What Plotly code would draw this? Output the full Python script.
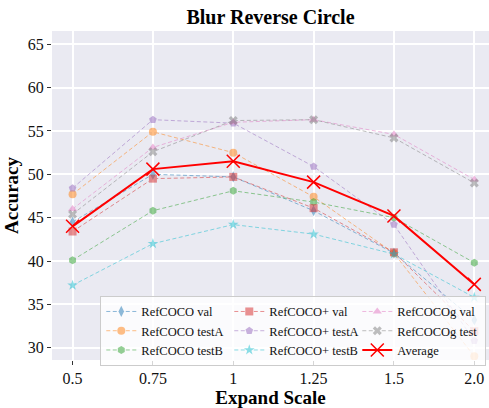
import plotly.graph_objects as go

scales = ["0.5", "0.75", "1", "1.25", "1.5", "2.0"]

refcoco_val = [44.5, 50.0, 49.7, 45.8, 40.9, 33.2]
refcoco_testA = [47.7, 54.9, 52.5, 47.4, 40.9, 29.0]
refcoco_testB = [40.1, 45.8, 48.1, 46.8, 45.0, 39.8]
refcocop_val = [43.4, 49.5, 49.7, 46.1, 41.0, 31.9]
refcocop_testA = [48.4, 56.3, 55.9, 50.9, 44.2, 30.8]
refcocop_testB = [37.2, 42.0, 44.2, 43.1, 40.8, 35.8]
refcocog_val = [46.0, 53.1, 56.0, 56.3, 54.6, 49.4]
refcocog_test = [45.4, 52.6, 56.2, 56.3, 54.2, 49.0]
average = [44.0, 50.6, 51.5, 49.1, 45.2, 37.3]

series = [
    ("RefCOCO val", refcoco_val, "#1f77b4", "diamond-tall", 1),
    ("RefCOCO testA", refcoco_testA, "#ff7f0e", "circle", 4),
    ("RefCOCO testB", refcoco_testB, "#2ca02c", "hexagon", 7),
    ("RefCOCO+ val", refcocop_val, "#d62728", "square", 2),
    ("RefCOCO+ testA", refcocop_testA, "#9467bd", "pentagon", 5),
    ("RefCOCO+ testB", refcocop_testB, "#17becf", "star", 8),
    ("RefCOCOg val", refcocog_val, "#e377c2", "triangle-up", 3),
    ("RefCOCOg test", refcocog_test, "#7f7f7f", "x", 6),
]

FONT = "Liberation Serif"

fig = go.Figure()
for name, vals, color, sym, rank in series:
    fig.add_trace(go.Scatter(
        x=scales, y=vals, name=name, mode="lines+markers",
        line=dict(color=color, width=1, dash="4px,2.5px"),
        marker=dict(symbol=sym, size=8, color=color),
        opacity=0.5, legendrank=rank,
    ))

fig.add_trace(go.Scatter(
    x=scales, y=average, name="Average", mode="lines+markers",
    line=dict(color="#ff0000", width=2),
    marker=dict(symbol="x-thin-open", size=13, color="#ff0000",
                line=dict(color="#ff0000", width=1.5)),
    legendrank=9,
))

fig.update_layout(
    width=489, height=408,
    margin=dict(l=52, r=0, t=31, b=48),
    paper_bgcolor="white",
    plot_bgcolor="#EAEAF2",
    font=dict(family=FONT, color="#111111", size=16),
    title=dict(text="<b>Blur Reverse Circle</b>", x=0.5, xref="paper",
               xanchor="center", y=1 - 17 / 408, yanchor="middle",
               font=dict(family=FONT, size=20, color="black")),
    showlegend=True,
    legend=dict(
        orientation="h", x=0.1105, y=0.195, xanchor="left", yanchor="top",
        entrywidth=83, entrywidthmode="pixels",
        bgcolor="rgba(255,255,255,0.8)", bordercolor="#cccccc", borderwidth=1,
        font=dict(family="serif", size=12.5, color="#111111"),
        itemwidth=30, tracegroupgap=0,
    ),
)

fig.update_xaxes(
    type="category", range=[-0.256, 5.183],
    showgrid=True, gridcolor="white", gridwidth=1.6,
    zeroline=False, showline=False,
    ticks="outside", ticklen=4, tickcolor="#333333",
    tickfont=dict(family="Liberation Serif", size=16, color="#111111"),
    title=dict(text="<b>Expand Scale</b>", standoff=6,
               font=dict(family=FONT, size=19, color="black")),
    automargin=False,
)
fig.update_yaxes(
    range=[28.58, 66.53], tickvals=[30, 35, 40, 45, 50, 55, 60, 65],
    showgrid=True, gridcolor="white", gridwidth=1.6,
    zeroline=False, showline=False,
    ticks="outside", ticklen=4, tickcolor="#333333",
    tickfont=dict(family="Times New Roman", size=16, color="#111111"),
    title=dict(text="<b>Accuracy</b>", standoff=4,
               font=dict(family=FONT, size=19, color="black")),
    automargin=False,
)

fig.write_html(
    "out.html",
    config={"displayModeBar": False},
    post_script="document.body.style.margin='0';document.body.style.overflow='hidden';",
)
